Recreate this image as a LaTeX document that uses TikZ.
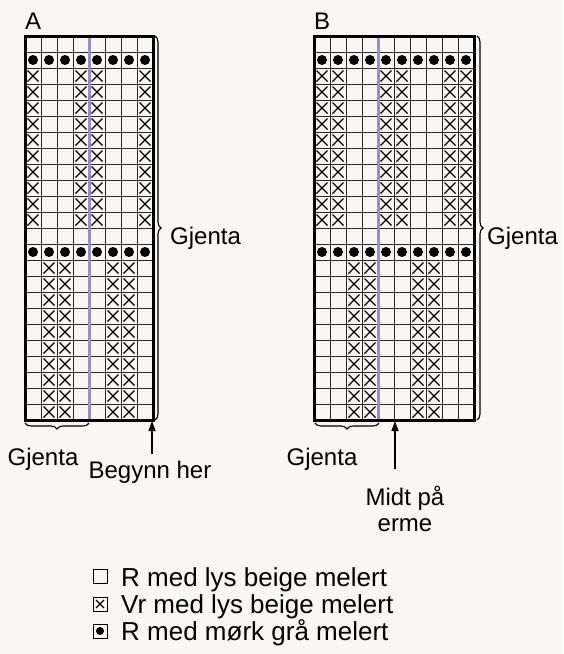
\documentclass[tikz,border=0pt]{standalone}
\usepackage{fontspec}
\setmainfont{Liberation Sans}
\usetikzlibrary{decorations.pathreplacing,arrows.meta}
\definecolor{lilla}{RGB}{152,142,200}
\definecolor{bakgrunn}{RGB}{248,247,243}
\tikzset{
  rute/.style={black!85,line width=0.9pt},
  ramme/.style={line width=3pt},
  midtlinje/.style={lilla,line width=3pt},
  kryss/.style={line width=1.2pt},
  klamme/.style={decorate,decoration={brace,amplitude=6pt},line width=1.1pt},
  tekst/.style={font=\fontsize{24}{26}\selectfont,inner sep=0pt},
  forklaring/.style={font=\fontsize{26}{28}\selectfont,inner sep=0pt,anchor=base west},
  pil/.style={-{Triangle[length=10pt,width=7pt]},line width=1.3pt}
}
\begin{document}
\begin{tikzpicture}[x=1pt,y=-1pt]
\fill[bakgrunn] (0,0) rectangle (563,654);
\useasboundingbox (0,0) rectangle (563,654);

% diagram A
\begin{scope}[shift={(25,36)}]
\foreach \c in {1,...,7} \draw[rute] (16*\c,0) -- (16*\c,384);
\foreach \r in {1,...,23} \draw[rute] (0,16*\r) -- (128,16*\r);
\foreach \r in {3,...,12} \foreach \c in {1,4,5,8}
  \draw[kryss] ({16*\c-13.5},{16*\r-13.5}) -- ++(11,11) ({16*\c-13.5},{16*\r-2.5}) -- ++(11,-11);
\foreach \r in {15,...,24} \foreach \c in {2,3,6,7}
  \draw[kryss] ({16*\c-13.5},{16*\r-13.5}) -- ++(11,11) ({16*\c-13.5},{16*\r-2.5}) -- ++(11,-11);
\foreach \r in {2,14} \foreach \c in {1,...,8}
  \fill ({16*\c-8},{16*\r-8}) circle[radius=5pt];
\draw[midtlinje] (64,0) -- (64,384);
\draw[ramme] (0,0) rectangle (128,384);
\end{scope}

% diagram B
\begin{scope}[shift={(314,36)}]
\foreach \c in {1,...,9} \draw[rute] (16*\c,0) -- (16*\c,384);
\foreach \r in {1,...,23} \draw[rute] (0,16*\r) -- (160,16*\r);
\foreach \r in {3,...,12} \foreach \c in {1,2,5,6,9,10}
  \draw[kryss] ({16*\c-13.5},{16*\r-13.5}) -- ++(11,11) ({16*\c-13.5},{16*\r-2.5}) -- ++(11,-11);
\foreach \r in {15,...,24} \foreach \c in {3,4,7,8}
  \draw[kryss] ({16*\c-13.5},{16*\r-13.5}) -- ++(11,11) ({16*\c-13.5},{16*\r-2.5}) -- ++(11,-11);
\foreach \r in {2,14} \foreach \c in {1,...,10}
  \fill ({16*\c-8},{16*\r-8}) circle[radius=5pt];
\draw[midtlinje] (64,0) -- (64,384);
\draw[ramme] (0,0) rectangle (160,384);
\end{scope}

\node[tekst,anchor=base west] (merkeA) at (25,29) {A};
\node[tekst,anchor=base west] (merkeB) at (314,29) {B};

% klammer og piler
\draw[klamme] (155,36) -- (155,420);
\node[tekst,anchor=base west] (gjentaA) at (170,244) {Gjenta};
\draw[klamme] (89,423) -- (25,423);
\node[tekst,anchor=base] (gjentaAbunn) at (43,465) {Gjenta};
\coordinate (pilAstart) at (152,454);
\coordinate (pilAslutt) at (152,421);
\draw[pil] (pilAstart) -- (pilAslutt);
\node[tekst,anchor=base] (begynn) at (150,478) {Begynn her};

\draw[klamme] (477,36) -- (477,420);
\node[tekst,anchor=base west] (gjentaB) at (487,244) {Gjenta};
\draw[klamme] (379,423) -- (315,423);
\node[tekst,anchor=base] (gjentaBbunn) at (322,465) {Gjenta};
\coordinate (pilBstart) at (395,469);
\coordinate (pilBslutt) at (395,421);
\draw[pil] (pilBstart) -- (pilBslutt);
\node[tekst,anchor=north,align=center] (midt) at (405,486) {Midt på\\erme};

% forklaring
\draw[line width=1pt] (93,569) rectangle (107,583);
\node[forklaring] (lys) at (121,586) {R med lys beige melert};
\draw[line width=1pt] (93,597) rectangle (107,611);
\draw[line width=1.1pt] (96,600) -- (104,608) (96,608) -- (104,600);
\node[forklaring] (vrang) at (121,613) {Vr med lys beige melert};
\draw[line width=1pt] (93,624) rectangle (107,638);
\fill (100,631) circle[radius=4pt];
\node[forklaring] (grå) at (121,640) {R med mørk grå melert};
\end{tikzpicture}
\end{document}
